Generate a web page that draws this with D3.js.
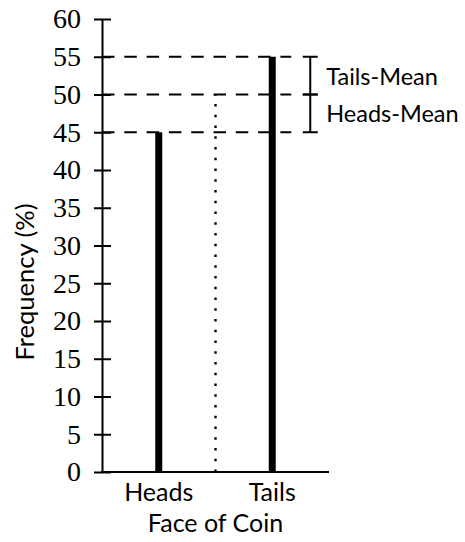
<!DOCTYPE html>
<html>
<head>
<meta charset="utf-8">
<script src="https://cdn.jsdelivr.net/npm/d3@7"></script>
<style>
  html, body { margin: 0; padding: 0; background: #fff; }
  svg { display: block; }
</style>
</head>
<body>
<svg id="chart" width="465" height="542"></svg>
<script>
// Coin-toss outcome frequencies
const faces = ["Heads", "Tails"];
const frequencies = [45, 55];
const meanValue = 50;
const yTicks = [0, 5, 10, 15, 20, 25, 30, 35, 40, 45, 50, 55, 60];
const deviationLabels = ["Tails-Mean", "Heads-Mean"];

const svg = d3.select("#chart");
const sansFont = "Lato, 'Noto Sans', sans-serif";
const serifFont = "'Liberation Serif', 'DejaVu Serif', serif";

const x = d3.scaleBand().domain(faces).range([102, 329]).padding(0);
const y = d3.scaleLinear().domain([0, 60]).range([472, 19]);
const cx = f => x(f) + x.bandwidth() / 2;

// Reference lines at each bar height and at the mean
const refEnd = cx("Tails") + 19;
svg.append("g").selectAll("line")
  .data([frequencies[1], meanValue, frequencies[0]])
  .join("line")
  .attr("x1", x.range()[0]).attr("x2", refEnd)
  .attr("y1", d => y(d)).attr("y2", d => y(d))
  .attr("stroke", "#000").attr("stroke-width", 2)
  .attr("stroke-dasharray", "12.5 9.8");

// Dotted divider between the two faces, up to the mean
svg.append("line")
  .attr("x1", x("Tails")).attr("x2", x("Tails"))
  .attr("y1", y(0)).attr("y2", y(meanValue))
  .attr("stroke", "#000").attr("stroke-width", 2.4)
  .attr("stroke-dasharray", "2.4 8.35");

// Bars drawn as thick stems
svg.append("g").selectAll("line")
  .data(faces.map((f, i) => ({ face: f, value: frequencies[i] })))
  .join("line")
  .attr("x1", d => cx(d.face)).attr("x2", d => cx(d.face))
  .attr("y1", y(0)).attr("y2", d => y(d.value))
  .attr("stroke", "#000").attr("stroke-width", 7);

// Y axis with ticks crossing the axis line
const yAxis = svg.append("g")
  .attr("transform", `translate(${x.range()[0]},0)`)
  .call(d3.axisLeft(y).tickValues(yTicks).tickSizeOuter(0).tickSizeInner(8).tickPadding(13));
yAxis.select(".domain").attr("stroke-width", 2);
yAxis.selectAll(".tick line").attr("x1", 9).attr("x2", -8).attr("stroke-width", 2);
yAxis.selectAll(".tick text")
  .attr("font-family", serifFont).attr("font-size", 28).attr("fill", "#000");

// X axis baseline and category labels
svg.append("line")
  .attr("x1", x.range()[0] - 1).attr("x2", x.range()[1])
  .attr("y1", y(0)).attr("y2", y(0))
  .attr("stroke", "#000").attr("stroke-width", 2);
svg.append("g").selectAll("text")
  .data(faces)
  .join("text")
  .attr("x", d => cx(d)).attr("y", 501)
  .attr("text-anchor", "middle")
  .attr("font-family", sansFont).attr("font-size", 25)
  .text(d => d);

// Axis titles
svg.append("text")
  .attr("x", (x.range()[0] + x.range()[1]) / 2).attr("y", 532)
  .attr("text-anchor", "middle")
  .attr("font-family", sansFont).attr("font-size", 25)
  .text("Face of Coin");
svg.append("text")
  .attr("transform", "translate(34,282) rotate(-90)")
  .attr("text-anchor", "middle")
  .attr("font-family", sansFont).attr("font-size", 25.5)
  .text("Frequency (%)");

// Deviation brackets from the mean
const bx = cx("Tails") + 38;
const spans = [[meanValue, frequencies[1]], [frequencies[0], meanValue]];
const br = svg.append("g").attr("stroke", "#000").attr("stroke-width", 2);
spans.forEach(([lo, hi]) => {
  br.append("line").attr("x1", bx).attr("x2", bx).attr("y1", y(lo)).attr("y2", y(hi));
  [lo, hi].forEach(v => br.append("line")
    .attr("x1", bx - 7.5).attr("x2", bx + 7.5).attr("y1", y(v)).attr("y2", y(v)));
});
svg.append("g").selectAll("text")
  .data(deviationLabels.map((t, i) => ({ t, mid: (spans[i][0] + spans[i][1]) / 2 })))
  .join("text")
  .attr("x", bx + 16).attr("y", d => y(d.mid) + 9)
  .attr("font-family", sansFont).attr("font-size", 23.5)
  .text(d => d.t);
</script>
</body>
</html>
